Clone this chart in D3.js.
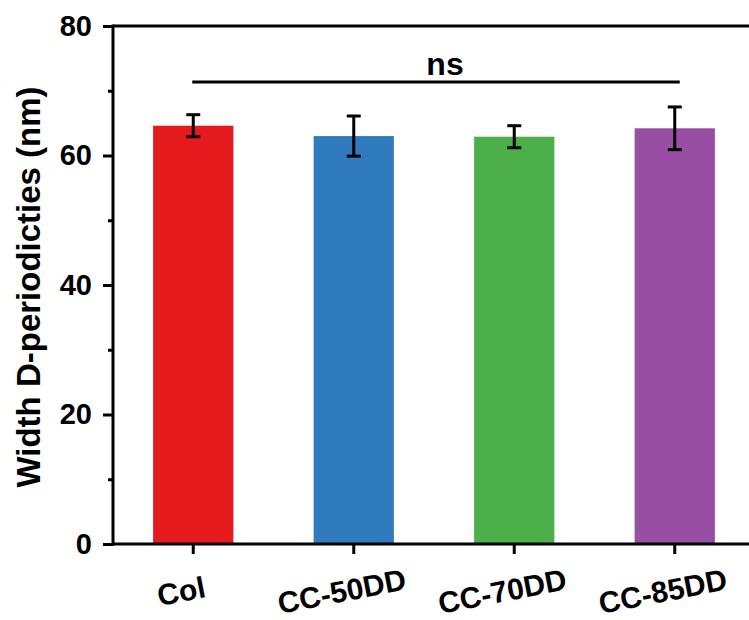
<!DOCTYPE html>
<html>
<head>
<meta charset="utf-8">
<script src="https://cdn.jsdelivr.net/npm/d3@7"></script>
<style>
  html, body { margin: 0; padding: 0; background: #fff; }
  svg { display: block; font-family: Arial, "Liberation Sans", sans-serif; font-weight: bold; }
</style>
</head>
<body>
<script>
// data
const groups = ["Col", "CC-50DD", "CC-70DD", "CC-85DD"];
const means = [64.6, 63.0, 62.9, 64.2];
const errors = [1.7, 3.1, 1.7, 3.3];
const colors = ["#E41A1C", "#2F7BBE", "#4DAF4A", "#984EA3"];
const majorTicks = [0, 20, 40, 60, 80];
const minorTicks = [10, 30, 50, 70];
const sigLabel = "ns";

const w = 749, h = 620;
const padL = 113, padT = 26, padB = 544, padR = 755;

const svg = d3.select("body").append("svg")
    .attr("width", w)
    .attr("height", h);

const x = d3.scaleBand()
    .domain(groups)
    .range([padL, padR])
    .paddingInner(0.5)
    .paddingOuter(0.25);

const y = d3.scaleLinear()
    .domain([0, 80])
    .range([padB, padT]);

// bars
svg.selectAll("rect.bar")
    .data(groups)
    .enter()
    .append("rect")
    .attr("class", "bar")
    .attr("x", d => x(d))
    .attr("width", x.bandwidth())
    .attr("y", (d, i) => y(means[i]))
    .attr("height", (d, i) => y(0) - y(means[i]))
    .attr("fill", (d, i) => colors[i]);

// error bars
const eb = svg.append("g").attr("stroke", "#000").attr("stroke-width", 3);
groups.forEach((g, i) => {
    const cx = x(g) + x.bandwidth() / 2;
    const y1 = y(means[i] + errors[i]), y2 = y(means[i] - errors[i]);
    eb.append("line").attr("x1", cx).attr("x2", cx).attr("y1", y1).attr("y2", y2);
    eb.append("line").attr("x1", cx - 7).attr("x2", cx + 7).attr("y1", y1).attr("y2", y1);
    eb.append("line").attr("x1", cx - 7).attr("x2", cx + 7).attr("y1", y2).attr("y2", y2);
});

// y axis
const yAxis = d3.axisLeft(y)
    .tickValues(majorTicks)
    .tickSize(10)
    .tickPadding(11);
const yg = svg.append("g")
    .attr("transform", "translate(" + padL + ",0)")
    .call(yAxis);
yg.select(".domain").remove();
yg.selectAll("line").attr("stroke", "#000").attr("stroke-width", 3);
yg.selectAll("text").attr("font-size", 29).attr("font-weight", "bold").attr("fill", "#000")
    .attr("font-family", "Arial, 'Liberation Sans', sans-serif");

const yMinor = d3.axisLeft(y).tickValues(minorTicks).tickSize(5).tickFormat("");
const ym = svg.append("g")
    .attr("transform", "translate(" + padL + ",0)")
    .call(yMinor);
ym.select(".domain").remove();
ym.selectAll("line").attr("stroke", "#000").attr("stroke-width", 3);

// frame lines: left, top, bottom
svg.append("line").attr("x1", padL).attr("x2", padL).attr("y1", padT - 1.5).attr("y2", padB + 1.5)
    .attr("stroke", "#000").attr("stroke-width", 3);
svg.append("line").attr("x1", padL).attr("x2", padR).attr("y1", padT).attr("y2", padT)
    .attr("stroke", "#000").attr("stroke-width", 3);
svg.append("line").attr("x1", padL).attr("x2", padR).attr("y1", padB).attr("y2", padB)
    .attr("stroke", "#000").attr("stroke-width", 3);

// x axis ticks and rotated labels
const xAxis = d3.axisBottom(x).tickSize(10).tickFormat("");
const xg = svg.append("g")
    .attr("transform", "translate(0," + padB + ")")
    .call(xAxis);
xg.select(".domain").remove();
xg.selectAll("line").attr("stroke", "#000").attr("stroke-width", 3);

svg.selectAll("text.xlab")
    .data(groups)
    .enter()
    .append("text")
    .attr("class", "xlab")
    .attr("transform", d => "translate(" + (x(d) + x.bandwidth() / 2 - 12) + ",591) rotate(-11)")
    .attr("text-anchor", "middle")
    .attr("dy", "0.36em")
    .attr("font-size", 30)
    .text(d => d);

// y axis title
svg.append("text")
    .attr("transform", "translate(40,287) rotate(-90)")
    .attr("text-anchor", "middle")
    .attr("font-size", 33)
    .text("Width D-periodicties (nm)");

// significance bracket
const sx1 = x(groups[0]) + x.bandwidth() / 2 - 1;
const sx2 = x(groups[groups.length - 1]) + x.bandwidth() / 2 + 5;
svg.append("line")
    .attr("x1", sx1).attr("x2", sx2)
    .attr("y1", 82).attr("y2", 82)
    .attr("stroke", "#000").attr("stroke-width", 3);
svg.append("text")
    .attr("x", 445)
    .attr("y", 75)
    .attr("text-anchor", "middle")
    .attr("font-size", 32)
    .text(sigLabel);
</script>
</body>
</html>
